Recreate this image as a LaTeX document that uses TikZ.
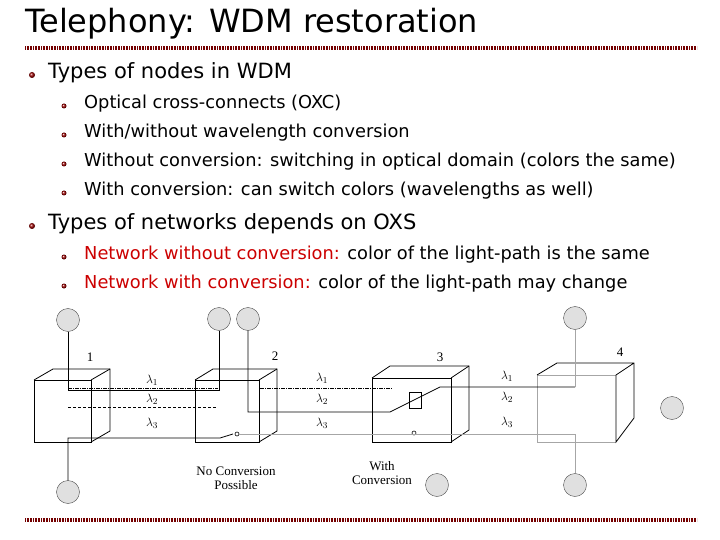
\documentclass[tikz,border=0pt]{standalone}
\usepackage{fontspec}
\setmainfont{DejaVu Sans}
\newfontfamily\serifw{Liberation Serif}
\begin{document}
\begin{tikzpicture}[x=1pt,y=-1pt,
  blt/.style={circle,inner sep=0pt,minimum size=6pt,ball color=red!60!black,shading=ball},
  t1/.style={anchor=west,inner sep=0pt,font=\fontsize{21}{24}\selectfont},
  t2/.style={anchor=west,inner sep=0pt,font=\fontsize{17.8}{20}\selectfont},
  hub/.style={circle,draw=black!70,fill=black!12,minimum size=23pt,inner sep=0pt},
  fig/.style={font=\serifw\fontsize{13}{14}\selectfont,inner sep=0pt},
  ln/.style={line width=0.8pt},
  gl/.style={line width=0.6pt,draw=black!35},
  rule/.style={line width=4pt,draw=red!45!black,dash pattern=on 1pt off 0.6pt}]
\useasboundingbox (0,0) rectangle (720,540);
\node[anchor=west,inner sep=0pt,font=\fontsize{32}{35}\selectfont] (title) at (25,24) {Telephony: WDM restoration};
\draw[rule] (25,48) -- (697,48);
\draw[rule] (25,520) -- (697,520);
\node[blt] (b1) at (32,75) {}; \node[t1] (l1) at (48,73) {Types of nodes in WDM};
\node[blt,minimum size=5pt] (b11) at (64,106) {}; \node[t2] (l11) at (84,104) {Optical cross-connects (OXC)};
\node[blt,minimum size=5pt] (b12) at (64,135) {}; \node[t2] (l12) at (84,133) {With/without wavelength conversion};
\node[blt,minimum size=5pt] (b13) at (64,164) {}; \node[t2] (l13) at (84,162) {Without conversion: switching in optical domain (colors the same)};
\node[blt,minimum size=5pt] (b14) at (64,193) {}; \node[t2] (l14) at (84,191) {With conversion: can switch colors (wavelengths as well)};
\node[blt] (b2) at (32,226) {}; \node[t1] (l2) at (48,224) {Types of networks depends on OXS};
\node[blt,minimum size=5pt] (b21) at (64,257) {}; \node[t2] (l21) at (84,255) {\textcolor{red!80!black}{Network without conversion:} color of the light-path is the same};
\node[blt,minimum size=5pt] (b22) at (64,286) {}; \node[t2] (l22) at (84,284) {\textcolor{red!80!black}{Network with conversion:} color of the light-path may change};
% cubes
\foreach \n/\xa/\xb/\ya/\dx/\dy in {1/34/91/380/19/-11, 2/195/259/380/18/-11, 3/372/451/378/18/-12}{
  \draw[ln] (\xa,\ya) rectangle (\xb,442);
  \draw[ln] (\xa,\ya) -- ++(\dx,\dy) -- (\xb+\dx,\ya+\dy) -- (\xb+\dx,442+\dy) -- (\xb,442);
  \draw[ln] (\xb,\ya) -- ++(\dx,\dy);
}
\draw[gl] (616,375) -- (537,375) -- (537,442) -- (616,442);
\draw[ln] (537,375) -- (557,363) -- (634,363) -- (634,418) -- (616,442) -- (616,375) -- (634,363);
\node[fig] (n1) at (90,357) {1};
\node[fig] (n2) at (275,356) {2};
\node[fig] (n3) at (440,357) {3};
\node[fig] (n4) at (620,352) {4};
% hubs
\node[hub] (h1t) at (68,320) {};
\node[hub] (h1b) at (68,492) {};
\node[hub] (h2a) at (219,319) {};
\node[hub] (h2b) at (248,319) {};
\node[hub] (h3b) at (437,485) {};
\node[hub] (h4t) at (575,318) {};
\node[hub] (h4r) at (672,408) {};
\node[hub] (h4b) at (575,485) {};
% paths
\draw[ln] (h1t) -- (68,390) -- (219,390) -- (h2a);
\draw[line width=0.6pt,dash pattern=on 4pt off 1pt on 1pt off 1pt] (68,388) -- (218,388);
\draw[line width=0.6pt,dash pattern=on 4pt off 1pt on 1pt off 1pt] (260,388) -- (393,388);
\draw[line width=0.7pt,dash pattern=on 3pt off 2pt] (68,407) -- (217,407);
\draw[ln] (h2b) -- (248,412) -- (390,412) -- (440,387) -- (575,387);
\draw[gl] (575,387) -- (h4t);
\draw[ln] (409,392) rectangle (421,408);
\draw[ln] (h1b) -- (68,438) -- (220,438) -- (233,434);
\node[circle,draw,line width=0.6pt,inner sep=0pt,minimum size=4pt] (sw2) at (237,434) {};
\node[circle,draw,line width=0.6pt,inner sep=0pt,minimum size=4pt] (sw3) at (414,433) {};
\draw[gl] (sw2) -- (575,434) -- (h4b);
% labels
\foreach \x/\a/\b/\c in {152/380/399/423, 322/378/399/423, 507/376/397/422}{
  \node[fig] at (\x,\a) {$\lambda_1$};
  \node[fig] at (\x,\b) {$\lambda_2$};
  \node[fig] at (\x,\c) {$\lambda_3$};
}
\node[fig,align=center] (nc) at (236,478) {No Conversion\\Possible};
\node[fig,align=center] (wc) at (382,473) {With\\Conversion};
\end{tikzpicture}
\end{document}
